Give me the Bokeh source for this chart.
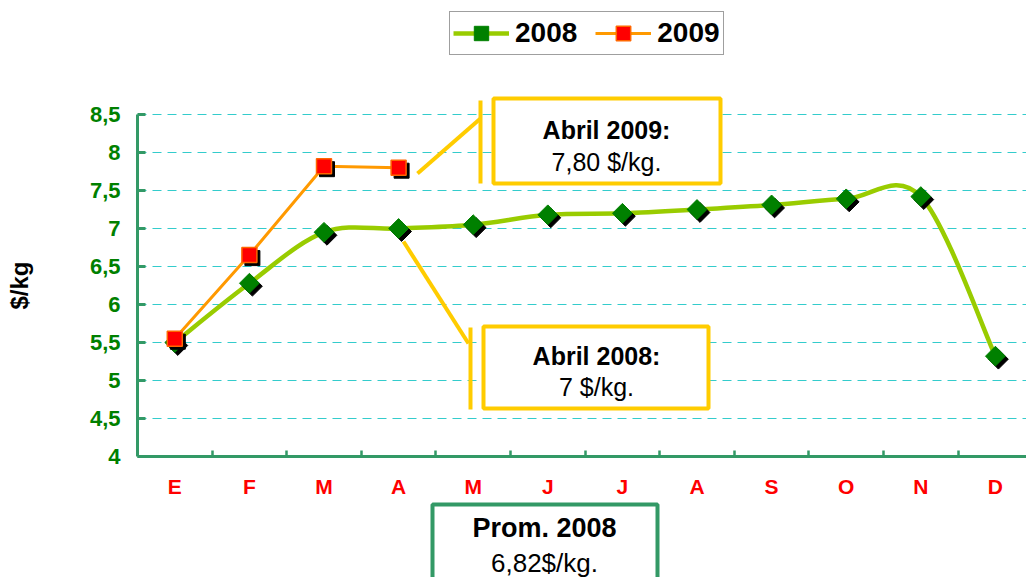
import numpy as np
from bokeh.plotting import figure
from bokeh.models import FixedTicker, Legend, LegendItem, BoxAnnotation, Label
from bokeh.embed import file_html
from bokeh.resources import INLINE

# ---------------- data ----------------
months = ["E", "F", "M", "A", "M", "J", "J", "A", "S", "O", "N", "D"]
price_2008 = [5.50, 6.28, 6.95, 7.00, 7.05, 7.18, 7.20, 7.25, 7.31, 7.39, 7.42, 5.32]
price_2009 = [5.55, 6.65, 7.82, 7.80]
y_ticks = [4.0, 4.5, 5.0, 5.5, 6.0, 6.5, 7.0, 7.5, 8.0, 8.5]
y_tick_labels = ["4", "4,5", "5", "5,5", "6", "6,5", "7", "7,5", "8", "8,5"]
series_names = ["2008", "2009"]
note_2009 = ["Abril 2009:", "7,80 $/kg."]
note_2008 = ["Abril 2008:", "7 $/kg."]
note_avg = ["Prom. 2008", "6,82$/kg."]

FONT = "Liberation Sans"
GREEN_AXIS = "#339966"
GOLD = "#ffcc00"
C08_LINE, C08_MARK = "#99cc00", "#008000"
C09_LINE, C09_MARK, C09_EDGE = "#ff9900", "#ff0000", "#ff6600"

x08 = np.arange(len(price_2008), dtype=float)
x09 = np.arange(len(price_2009), dtype=float)
y08 = np.array(price_2008, dtype=float)
y09 = np.array(price_2009, dtype=float)

# plot-area geometry (canvas pixels)
FL, FT, FB = 137.0, 114.0, 456.0
W, H = 1026, 577
PXX = 74.6
PXY = (FB - FT) / 4.5


def xd(px):
    return -0.5 + (px - FL) / PXX


def yd(py):
    return 4.0 + (FB - py) / PXY


X_END = xd(W)

p = figure(width=W, height=H, x_range=(xd(0), X_END), y_range=(yd(H), yd(0)),
           output_backend="svg", toolbar_location=None,
           min_border_left=0, min_border_right=0, min_border_top=0, min_border_bottom=0)
p.outline_line_color = None
p.background_fill_color = "white"
p.border_fill_color = "white"

# axes (fixed at the plot-area edges)
p.xaxis.fixed_location = 4.0
p.xaxis.bounds = (-0.5, X_END)
p.xaxis.ticker = FixedTicker(ticks=list(x08), minor_ticks=list(x08[:-1] + 0.5))
p.xaxis.major_label_overrides = {float(i): m for i, m in enumerate(months)}
p.xaxis.major_tick_line_color = None
p.xaxis.minor_tick_line_color = GREEN_AXIS
p.xaxis.minor_tick_line_width = 2.5
p.xaxis.minor_tick_in = 6
p.xaxis.minor_tick_out = 0
p.xaxis.axis_line_color = GREEN_AXIS
p.xaxis.axis_line_width = 3
p.xaxis.major_label_text_color = "#ff0000"
p.xaxis.major_label_text_font = FONT
p.xaxis.major_label_text_font_style = "bold"
p.xaxis.major_label_text_font_size = "21px"
p.xaxis.major_label_standoff = 12

p.yaxis.fixed_location = -0.5
p.yaxis.bounds = (4.0, 8.5)
p.yaxis.ticker = FixedTicker(ticks=y_ticks)
p.yaxis.major_label_overrides = {t: l for t, l in zip(y_ticks, y_tick_labels)}
p.yaxis.minor_tick_line_color = None
p.yaxis.major_tick_line_color = GREEN_AXIS
p.yaxis.major_tick_line_width = 3
p.yaxis.major_tick_in = 8
p.yaxis.major_tick_out = 0
p.yaxis.axis_line_color = GREEN_AXIS
p.yaxis.axis_line_width = 3
p.yaxis.major_label_text_color = "#008000"
p.yaxis.major_label_text_font = FONT
p.yaxis.major_label_text_font_style = "bold"
p.yaxis.major_label_text_font_size = "22px"
p.yaxis.major_label_standoff = 17
p.yaxis.axis_label = "$/kg"
p.yaxis.axis_label_text_font = FONT
p.yaxis.axis_label_text_font_style = "bold"
p.yaxis.axis_label_text_font_size = "24px"
p.yaxis.axis_label_text_color = "black"
p.yaxis.axis_label_standoff = 54

p.xgrid.visible = False
p.ygrid.ticker = FixedTicker(ticks=y_ticks[1:])
p.ygrid.cross_bounds = (-0.5, X_END)
p.ygrid.grid_line_color = "#33cccc"
p.ygrid.grid_line_width = 1
p.ygrid.grid_line_dash = "9 6"

# smoothed 2008 curve (Catmull-Rom style Bezier control points from the data)
xp = np.concatenate([[x08[0]], x08, [x08[-1]]])
yp = np.concatenate([[y08[0]], y08, [y08[-1]]])
cx0 = x08[:-1] + (xp[2:-1] - xp[:-3]) / 6.0
cy0 = y08[:-1] + (yp[2:-1] - yp[:-3]) / 6.0
cx1 = x08[1:] - (xp[3:] - xp[1:-2]) / 6.0
cy1 = y08[1:] - (yp[3:] - yp[1:-2]) / 6.0
curve = p.bezier(x0=x08[:-1], y0=y08[:-1], x1=x08[1:], y1=y08[1:],
                 cx0=cx0, cy0=cy0, cx1=cx1, cy1=cy1,
                 line_color=C08_LINE, line_width=4.5)

DIA = dict(marker="square", size=14, angle=np.pi / 4)
SQ = dict(marker="square", size=15)
sdx, sdy = 3.0 / PXX, -3.0 / PXY
p.scatter(x08 + sdx, y08 + sdy, fill_color="black", line_color="black", **DIA)
dia = p.scatter(x08, y08, fill_color=C08_MARK, line_color=C08_MARK, **DIA)

l09 = p.line(x09, y09, line_color=C09_LINE, line_width=3)
p.scatter(x09 + sdx, y09 + sdy, fill_color="black", line_color="black", **SQ)
sq = p.scatter(x09, y09, fill_color=C09_MARK, line_color=C09_EDGE, line_width=1.5, **SQ)

# leader lines from the April points to the notes
p.segment(x0=[xd(417), xd(403)], y0=[yd(173), yd(241)],
          x1=[xd(480), xd(468)], y1=[yd(118), yd(343)],
          line_color=GOLD, line_width=4)

CU = dict(left_units="canvas", right_units="canvas", top_units="canvas", bottom_units="canvas")

# bars next to the note boxes
p.add_layout(BoxAnnotation(left=478, right=482, top=100, bottom=183,
                           fill_color=GOLD, fill_alpha=1, line_color=None, **CU))
p.add_layout(BoxAnnotation(left=468, right=472, top=327, bottom=409,
                           fill_color=GOLD, fill_alpha=1, line_color=None, **CU))

# note boxes
boxes = [
    (493, 720, 98, 183, GOLD),
    (483, 708, 326, 408, GOLD),
    (432, 657, 504, 600, GREEN_AXIS),
]
for l, r, t, b, c in boxes:
    p.add_layout(BoxAnnotation(left=l, right=r, top=t, bottom=b,
                               fill_color="white", fill_alpha=1, line_color=c,
                               line_width=4, line_alpha=1, **CU))

texts = [
    (606, 129, note_2009[0], "bold", "25px"),
    (606, 161, note_2009[1], "normal", "25px"),
    (596, 355, note_2008[0], "bold", "25px"),
    (596, 386, note_2008[1], "normal", "25px"),
    (544, 527, note_avg[0], "bold", "27px"),
    (544, 562, note_avg[1], "normal", "26px"),
]
for tx, ty, txt, style, size in texts:
    p.add_layout(Label(x=tx, y=ty, x_units="canvas", y_units="canvas", text=txt,
                       text_align="center", text_baseline="middle", text_font=FONT,
                       text_font_style=style, text_font_size=size, text_color="black"))

# legend
legend = Legend(items=[LegendItem(label=series_names[0], renderers=[curve, dia]),
                       LegendItem(label=series_names[1], renderers=[l09, sq])],
                orientation="horizontal", location=(449, H - 55),
                label_text_font=FONT, label_text_font_style="bold",
                label_text_font_size="28px", label_text_color="black",
                glyph_width=56, glyph_height=36, label_standoff=6, spacing=18,
                padding=3, margin=0, border_line_color="#404040", border_line_width=1.5,
                background_fill_color="white", background_fill_alpha=1)
p.add_layout(legend)

open("out.html", "w").write(file_html(p, INLINE))
